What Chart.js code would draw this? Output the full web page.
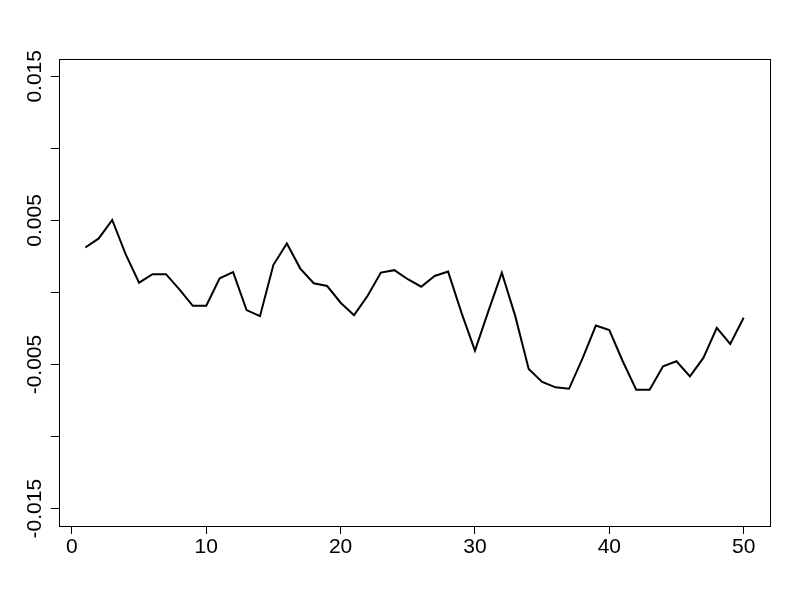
<!DOCTYPE html>
<html>
<head>
<meta charset="utf-8">
<script src="https://cdn.jsdelivr.net/npm/chart.js@4/dist/chart.umd.min.js"></script>
<style>
  html, body { margin: 0; padding: 0; background: #fff; }
  #wrap { width: 800px; height: 600px; }
</style>
</head>
<body>
<div id="wrap"><canvas id="c" width="800" height="600"></canvas></div>
<script>
const seriesValues = [
  0.00312, 0.00375, 0.00503, 0.00266, 0.00068, 0.00127, 0.00127, 0.00022, -0.00092, -0.00092,
  0.00099, 0.00141, -0.00122, -0.00164, 0.00192, 0.00340, 0.00166, 0.00064, 0.00045, -0.00071,
  -0.00157, -0.00024, 0.00138, 0.00155, 0.00092, 0.00040, 0.00115, 0.00145, -0.00141, -0.00403,
  -0.00129, 0.00138, -0.00164, -0.00531, -0.00621, -0.00658, -0.00668, -0.00459, -0.00229, -0.00261,
  -0.00477, -0.00675, -0.00675, -0.00512, -0.00477, -0.00582, -0.00454, -0.00245, -0.00357, -0.00175
];
const indexValues = Array.from({ length: seriesValues.length }, (_, i) => i + 1);
const xTickValues = [0, 10, 20, 30, 40, 50];
const yTickValues = [-0.015, -0.01, -0.005, 0, 0.005, 0.01, 0.015];
const yTickLabels = ['-0.015', '', '-0.005', '', '0.005', '', '0.015'];

const FONT = 'Arial, "Liberation Sans", sans-serif';
const FONT_SIZE = 21;

const boxPlugin = {
  id: 'rbox',
  afterDraw(chart) {
    const { ctx, chartArea: a } = chart;
    ctx.save();
    ctx.strokeStyle = '#000';
    ctx.lineWidth = 1;
    ctx.strokeRect(Math.round(a.left) + 0.5, Math.round(a.top) + 0.5,
      Math.round(a.right - a.left), Math.round(a.bottom - a.top));
    // rotated y tick labels (R style, las=0)
    const ys = chart.scales.y;
    ctx.fillStyle = '#000';
    ctx.font = FONT_SIZE + 'px ' + FONT;
    ctx.textAlign = 'center';
    ctx.textBaseline = 'alphabetic';
    yTickValues.forEach((v, i) => {
      const lbl = yTickLabels[i];
      if (!lbl) return;
      const py = ys.getPixelForValue(v);
      ctx.save();
      ctx.translate(41, py);
      ctx.rotate(-Math.PI / 2);
      ctx.fillText(lbl, 0, 0);
      ctx.restore();
    });
    ctx.restore();
  }
};

new Chart(document.getElementById('c'), {
  type: 'line',
  data: {
    datasets: [{
      data: indexValues.map((x, i) => ({ x: x, y: seriesValues[i] })),
      borderColor: '#000',
      borderWidth: 2,
      pointRadius: 0,
      tension: 0,
      fill: false
    }]
  },
  options: {
    responsive: false,
    animation: false,
    devicePixelRatio: 1,
    layout: { padding: { top: 59, right: 30, left: 0, bottom: 0 } },
    plugins: { legend: { display: false }, tooltip: { enabled: false } },
    scales: {
      x: {
        type: 'linear',
        min: 1 - 0.04 * 49,
        max: 50 + 0.04 * 49,
        afterBuildTicks: (s) => { s.ticks = xTickValues.map(v => ({ value: v })); },
        afterFit: (s) => { s.height = 74; },
        grid: { display: true, drawOnChartArea: false, drawTicks: true, tickLength: 8, color: '#000', lineWidth: 1 },
        border: { display: true, color: '#000', width: 1 },
        ticks: {
          color: '#000',
          font: { family: FONT, size: FONT_SIZE },
          padding: 1,
          maxRotation: 0,
          minRotation: 0,
          callback: (v) => String(v)
        }
      },
      y: {
        type: 'linear',
        min: -0.0162,
        max: 0.0162,
        afterBuildTicks: (s) => { s.ticks = yTickValues.map(v => ({ value: v })); },
        afterFit: (s) => { s.width = 59; },
        grid: { display: true, drawOnChartArea: false, drawTicks: true, tickLength: 8, color: '#000', lineWidth: 1 },
        border: { display: true, color: '#000', width: 1 },
        ticks: { display: true, color: 'rgba(0,0,0,0)', callback: () => '' }
      }
    }
  },
  plugins: [boxPlugin]
});
</script>
</body>
</html>
